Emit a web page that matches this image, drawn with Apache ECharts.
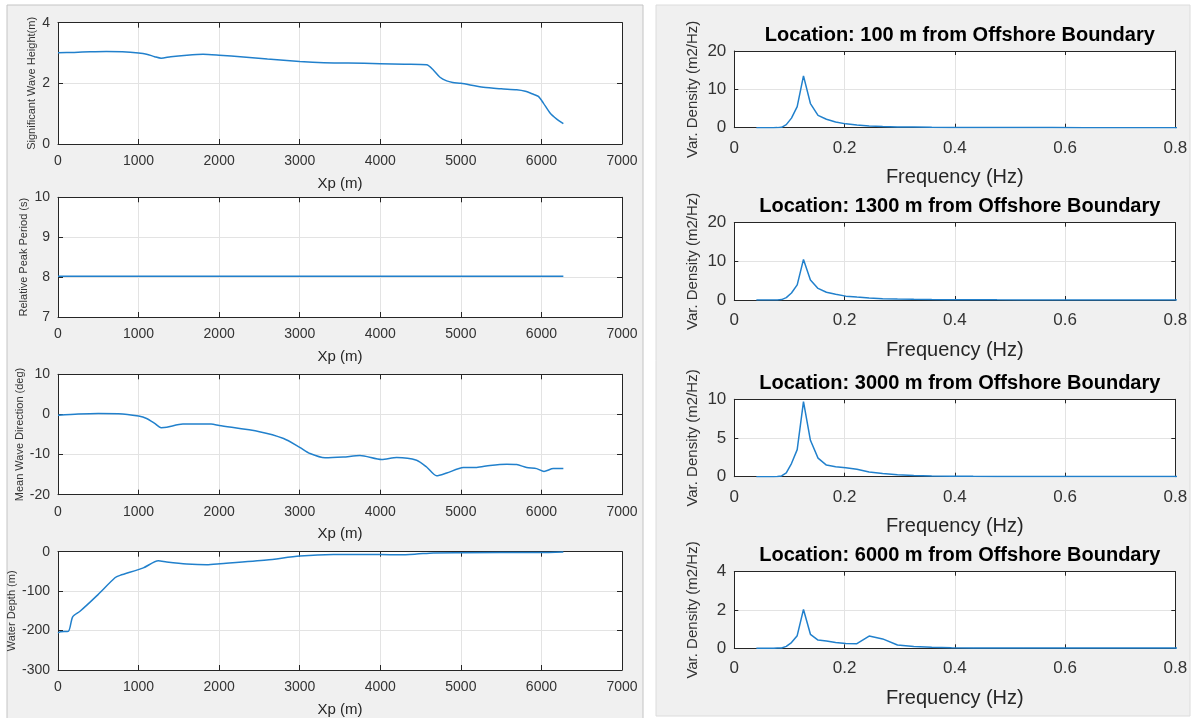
<!DOCTYPE html>
<html><head><meta charset="utf-8">
<script src="https://cdn.jsdelivr.net/npm/echarts@6/dist/echarts.min.js"></script>
<style>html,body{margin:0;padding:0;background:#fff}#c{width:1193px;height:718px}</style>
</head><body><div id="c"></div>
<script>
// ---------- DATA ----------
const hsData = [[0,3.01],[200,3.02],[400,3.04],[600,3.05],[800,3.04],[1000,3.0],[1100,2.96],[1200,2.88],[1280,2.83],[1400,2.88],[1600,2.93],[1800,2.96],[2000,2.93],[2300,2.87],[2600,2.8],[3000,2.72],[3300,2.68],[3600,2.67],[4000,2.65],[4300,2.63],[4575,2.61],[4658,2.44],[4741,2.2],[4824,2.08],[4900,2.03],[5000,2.0],[5279,1.87],[5500,1.82],[5693,1.79],[5800,1.74],[5900,1.64],[5962,1.57],[6024,1.35],[6107,1.02],[6190,0.82],[6272,0.67]];
const tpData = [[0,8.02],[6272,8.02]];
const dirData = [[0,-0.2],[250,0.1],[500,0.25],[750,0.2],[1000,-0.4],[1100,-1.0],[1200,-2.25],[1280,-3.3],[1350,-3.2],[1550,-2.4],[1900,-2.4],[2000,-2.75],[2500,-4.3],[2800,-6],[3000,-8.2],[3128,-9.75],[3314,-10.8],[3541,-10.6],[3748,-10.25],[4017,-11.25],[4203,-10.75],[4451,-11.4],[4575,-13.1],[4699,-15.3],[4824,-14.6],[5031,-13.25],[5197,-13.2],[5362,-12.7],[5569,-12.4],[5693,-12.5],[5817,-13.2],[5941,-13.5],[6032,-14.2],[6148,-13.5],[6272,-13.5]];
const depthData = [[0,-206],[30,-203],[128,-202],[182,-165],[273,-151],[480,-112],[707,-66],[770,-60],[1059,-41],[1245,-23],[1349,-26],[1597,-31],[1845,-33],[2011,-30.6],[2590,-21],[3000,-11],[3418,-7],[3997,-7],[4245,-8],[4451,-6],[4658,-3],[4990,-2.5],[5982,-2],[6272,-0.5]];

const freq = [0.04,0.044,0.0484,0.0532,0.0586,0.0644,0.0709,0.078,0.0858,0.0943,0.1037,0.1141,0.1255,0.1381,0.1519,0.1671,0.1838,0.2022,0.2224,0.2446,0.2691,0.296,0.3256,0.3582,0.394,0.4334,0.4767,0.5244,0.5768,0.6345,0.698,0.7678,0.8446];
const spec100  = [0,0,0,0,0,0,0,0.02,0.1,0.8,2.5,5.5,13.5,6.3,3.2,2.2,1.5,1.0,0.7,0.45,0.3,0.2,0.15,0.1,0.07,0.05,0.03,0.02,0.02,0.01,0.01,0.01,0.01];
const spec1300 = [0,0,0,0,0,0,0,0.02,0.1,0.6,1.8,3.9,10.5,5.2,3.0,2.0,1.5,1.0,0.75,0.5,0.35,0.25,0.18,0.12,0.08,0.05,0.04,0.03,0.02,0.02,0.01,0.01,0.01];
const spec3000 = [0,0,0,0,0,0,0,0.02,0.1,0.5,1.7,3.5,9.7,4.7,2.4,1.5,1.3,1.15,0.95,0.6,0.4,0.25,0.15,0.1,0.07,0.05,0.04,0.03,0.02,0.02,0.01,0.01,0.01];
const spec6000 = [0,0,0,0,0,0,0,0.01,0.02,0.1,0.3,0.66,2.03,0.73,0.43,0.38,0.3,0.25,0.24,0.64,0.49,0.17,0.09,0.05,0.03,0.02,0.02,0.01,0.01,0.01,0.01,0.01,0.01];

const leftYNames = ['Significant Wave Height(m)','Relative Peak Period (s)','Mean Wave Direction (deg)','Water Depth (m)'];
const rightTitles = ['Location: 100 m from Offshore Boundary','Location: 1300 m from Offshore Boundary','Location: 3000 m from Offshore Boundary','Location: 6000 m from Offshore Boundary'];
const xpName = 'Xp (m)';
const freqName = 'Frequency (Hz)';
const densName = 'Var. Density (m2/Hz)';

// ---------- LAYOUT ----------
const FONT = '"Liberation Sans", Arial, Helvetica, sans-serif';
const LINE = '#2180cc';
const panels = [
  {left:58, top:22.7, width:564, height:121.3, x:[0,7000,1000], y:[0,4,2], yName:leftYNames[0], yGap:21, data:hsData, side:'L'},
  {left:58, top:197.3, width:564, height:119.7, x:[0,7000,1000], y:[7,10,1], yName:leftYNames[1], yGap:29, data:tpData, side:'L'},
  {left:58, top:374.3, width:564, height:120.4, x:[0,7000,1000], y:[-20,10,10], yName:leftYNames[2], yGap:32, data:dirData, side:'L'},
  {left:58, top:551.7, width:564, height:121.6, x:[0,7000,1000], y:[-300,0,100], yName:leftYNames[3], yGap:41, data:depthData, side:'L'},
  {left:734.3, top:51, width:441, height:76.7, x:[0,0.8,0.2], y:[0,20,10], title:rightTitles[0], data:freq.map((f,i)=>[f,spec100[i]]), side:'R'},
  {left:734.3, top:222.7, width:441, height:77.3, x:[0,0.8,0.2], y:[0,20,10], title:rightTitles[1], data:freq.map((f,i)=>[f,spec1300[i]]), side:'R'},
  {left:734.3, top:399.3, width:441, height:77.4, x:[0,0.8,0.2], y:[0,10,5], title:rightTitles[2], data:freq.map((f,i)=>[f,spec3000[i]]), side:'R'},
  {left:734.3, top:571.7, width:441, height:76.6, x:[0,0.8,0.2], y:[0,4,2], title:rightTitles[3], data:freq.map((f,i)=>[f,spec6000[i]]), side:'R'}
];

const grid=[], xAxis=[], yAxis=[], series=[], title=[];
const axisLine = {show:true, onZero:false, lineStyle:{color:'#262626', width:1}};
const tick = (len)=>({show:true, inside:true, length:len, lineStyle:{color:'#262626', width:1}});
const plain = v => String(+v.toFixed(6));
panels.forEach((p,i)=>{
  const L = p.side==='L';
  grid.push({left:p.left, top:p.top, width:p.width, height:p.height, show:true, backgroundColor:'#fff', borderWidth:0});
  const tickFs = L?14:17;
  xAxis.push({gridIndex:i, type:'value', position:'bottom', min:p.x[0], max:p.x[1], interval:p.x[2],
    axisLine, axisTick:tick(L?5:4),
    axisLabel:{color:'#333', fontFamily:FONT, fontSize:tickFs, margin:L?10:12, formatter:plain},
    splitLine:{show:true, lineStyle:{color:'#e3e3e3', width:1}},
    name:L?xpName:freqName, nameLocation:'middle', nameGap:L?32:40,
    nameTextStyle:{color:'#262626', fontFamily:FONT, fontSize:L?15:20}});
  xAxis.push({gridIndex:i, type:'value', position:'top', min:p.x[0], max:p.x[1], interval:p.x[2],
    axisLine, axisTick:tick(L?5:4), axisLabel:{show:false}, splitLine:{show:false}});
  yAxis.push({gridIndex:i, type:'value', position:'left', min:p.y[0], max:p.y[1], interval:p.y[2],
    axisLine, axisTick:tick(L?5:4),
    axisLabel:{color:'#333', fontFamily:FONT, fontSize:tickFs, margin:8, formatter:plain},
    splitLine:{show:true, lineStyle:{color:'#e3e3e3', width:1}},
    name:L?p.yName:densName, nameLocation:'middle', nameGap:L?p.yGap:34,
    nameTextStyle:{color:'#333', fontFamily:FONT, fontSize:L?11:15}});
  yAxis.push({gridIndex:i, type:'value', position:'right', min:p.y[0], max:p.y[1], interval:p.y[2],
    axisLine, axisTick:tick(L?5:4), axisLabel:{show:false}, splitLine:{show:false}});
  series.push({type:'line', xAxisIndex:2*i, yAxisIndex:2*i, data:p.data, showSymbol:false, symbol:'none',
    smooth:L?0.25:false, clip:true, lineStyle:{color:LINE, width:1.5}, z:5});
  if(!L){
    title.push({text:p.title, left:p.left+p.width/2, top:p.top-31, textAlign:'center',
      textStyle:{fontFamily:FONT, fontWeight:'bold', fontSize:20, color:'#000'}});
  }
});

const chart = echarts.init(document.getElementById('c'), null, {renderer:'canvas'});
chart.setOption({
  animation:false,
  backgroundColor:'#fff',
  title, grid, xAxis, yAxis, series,
  graphic:[
    {type:'rect', z:-10, shape:{x:7,y:5,width:636,height:720}, style:{fill:'#f0f0f0', stroke:'#c4c4c4', lineWidth:1}},
    {type:'rect', z:-10, shape:{x:656,y:5,width:534,height:711}, style:{fill:'#f0f0f0', stroke:'#dcdcdc', lineWidth:1}}
  ]
});
</script></body></html>
